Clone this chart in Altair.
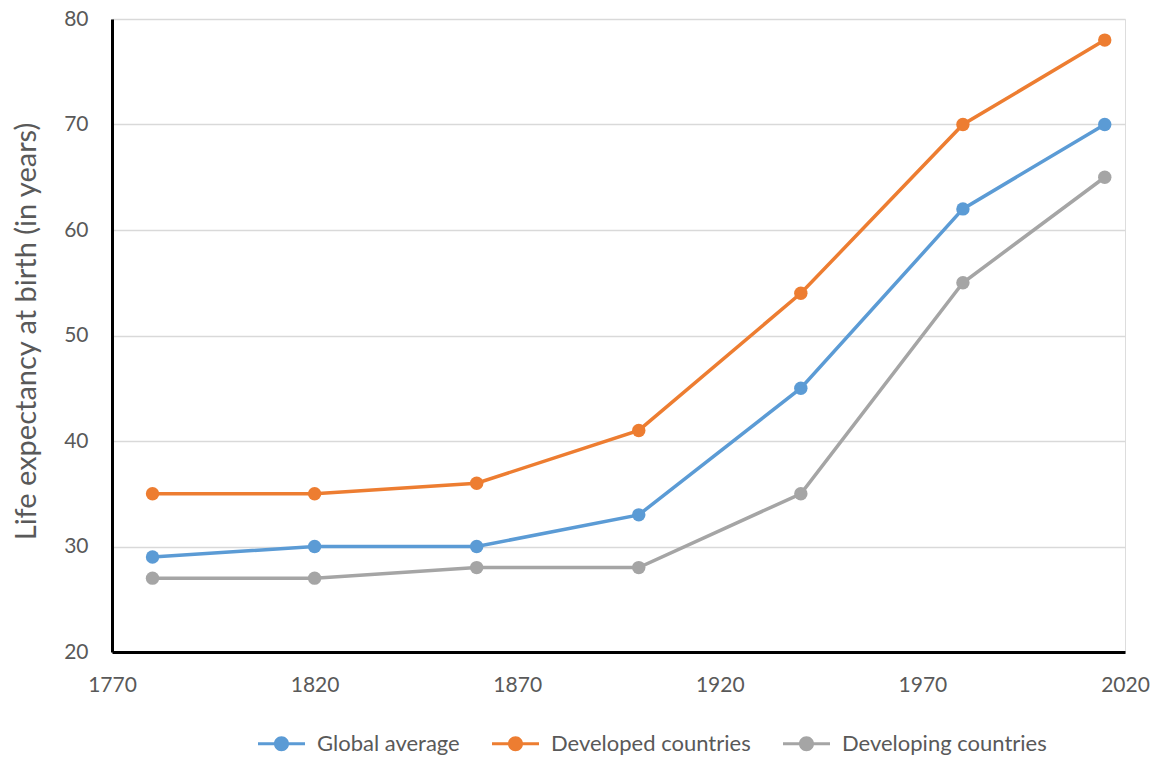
import altair as alt
import pandas as pd

# Survey years and life expectancy at birth (years) for each group
years = [1780, 1820, 1860, 1900, 1940, 1980, 2015]
global_average = [29, 30, 30, 33, 45, 62, 70]
developed = [35, 35, 36, 41, 54, 70, 78]
developing = [27, 27, 28, 28, 35, 55, 65]

series_names = ["Global average", "Developed countries", "Developing countries"]
series_colors = ["#5B9BD5", "#ED7D31", "#A5A5A5"]
x_ticks = [1770, 1820, 1870, 1920, 1970, 2020]
y_ticks = [20, 30, 40, 50, 60, 70, 80]

rows = []
for name, vals in zip(series_names, [global_average, developed, developing]):
    for yr, v in zip(years, vals):
        rows.append({"Year": yr, "Life": v, "Series": name})
df = pd.DataFrame(rows)

FONT = "Lato"
TEXT = "#595959"

# Legend glyph: a short line with a dot in the middle
legend_glyph = (
    "M-1,-0.064 L1,-0.064 L1,0.064 L-1,0.064 Z "
    "M0.32,0 A0.32,0.32 0 1,1 -0.32,0 A0.32,0.32 0 1,1 0.32,0 Z"
)

color = alt.Color(
    "Series:N",
    scale=alt.Scale(domain=series_names, range=series_colors),
    legend=alt.Legend(
        title=None,
        orient="none",
        direction="horizontal",
        legendX=146,
        legendY=701,
        symbolType=legend_glyph,
        symbolSize=2209,
        symbolStrokeWidth=0,
        symbolOpacity=1,
        labelFont=FONT,
        labelFontSize=22,
        labelColor=TEXT,
        labelOffset=12,
        labelLimit=400,
        columnPadding=32,
    ),
)

x = alt.X(
    "Year:Q",
    scale=alt.Scale(domain=[1770, 2020], nice=False, zero=False),
    axis=alt.Axis(
        values=x_ticks,
        format="d",
        title=None,
        grid=False,
        ticks=False,
        domainColor="black",
        domainWidth=3,
        labelFont=FONT,
        labelFontSize=21,
        labelColor=TEXT,
        labelPadding=22,
        labelFlush=False,
    ),
)

y = alt.Y(
    "Life:Q",
    scale=alt.Scale(domain=[20, 80], nice=False, zero=False),
    axis=alt.Axis(
        values=y_ticks,
        title="Life expectancy at birth (in years)",
        titleFont=FONT,
        titleFontSize=29,
        titleFontWeight="normal",
        titleColor=TEXT,
        titleAngle=-90,
        titleX=-86,
        titleY=312,
        titleAlign="center",
        titleBaseline="middle",
        grid=True,
        gridColor="#D9D9D9",
        gridWidth=1.5,
        ticks=False,
        domainColor="black",
        domainWidth=3,
        labelFont=FONT,
        labelFontSize=21,
        labelColor=TEXT,
        labelPadding=24,
    ),
)

base = alt.Chart(df)
lines = base.mark_line(strokeWidth=3.5).encode(x=x, y=y, color=color)
points = base.mark_circle(size=180, opacity=1).encode(x=x, y=y, color=color)

chart = (
    alt.layer(lines, points)
    .properties(
        width=1013,
        height=633,
        autosize=alt.AutoSizeParams(type="none"),
        padding={"left": 112, "top": 19, "right": 39, "bottom": 106},
    )
    .configure_view(stroke=None)
    .configure(background="white")
)

chart.save("out.html", embed_options={"renderer": "svg", "actions": False})
